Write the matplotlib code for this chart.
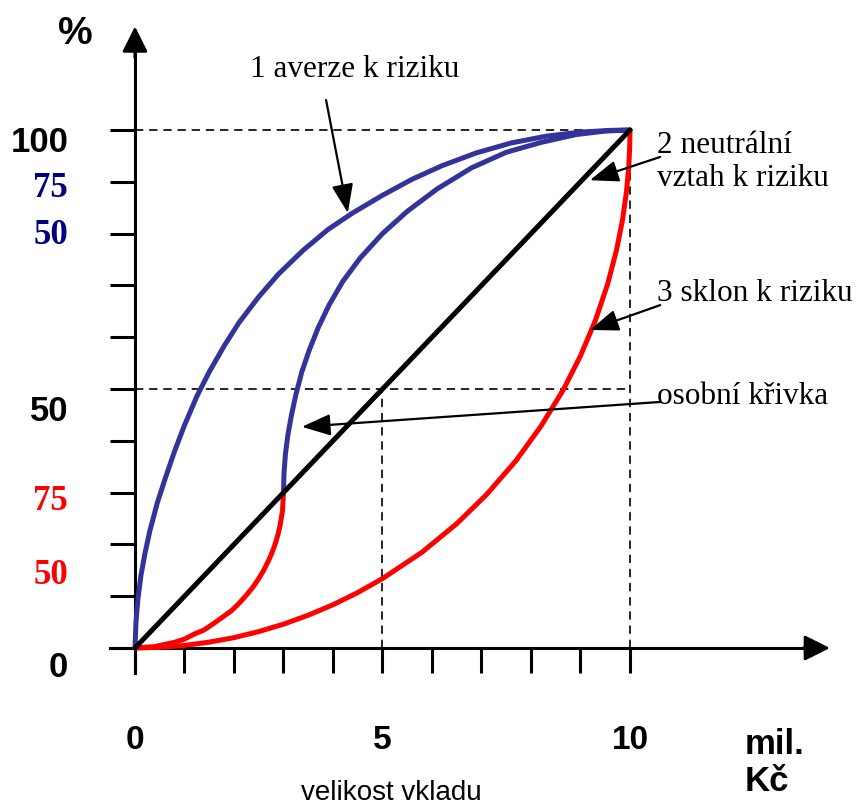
import matplotlib.pyplot as plt

OUT = "out.png"

BLUE = "#333399"
RED = "#ff0000"
NAVY = "#000080"

# 1 averze k riziku (blue, concave)
aver_x = [0, 0.02, 0.06, 0.12, 0.2, 0.3, 0.45, 0.62, 0.8, 1.0, 1.25, 1.5, 1.8,
          2.1, 2.5, 2.9, 3.4, 3.9, 4.4, 5.0, 5.6, 6.2, 6.9, 7.6, 8.3, 9.0, 9.6, 10]
aver_y = [0, 5.0, 9.5, 14.0, 18.2, 22.6, 28.0, 33.0, 38.0, 43.0, 48.6, 53.3, 58.3,
          62.8, 67.8, 72.2, 76.8, 80.8, 84.0, 87.4, 90.5, 93.1, 95.6, 97.5, 98.8,
          99.6, 99.93, 100]

# 2 neutralni vztah (black, straight)
neut_x = [0, 10]
neut_y = [0, 100]

# 3 sklon k riziku (red, convex)
sklon_x = [0, 0.5, 1.0, 1.5, 2.0, 2.5, 3.0, 3.5, 4.0, 4.5, 5.0, 5.8, 6.5, 7.1,
           7.7, 8.2, 8.65, 9.0, 9.3, 9.55, 9.73, 9.85, 9.93, 9.975, 9.995, 10]
sklon_y = [0, 0.13, 0.5, 1.13, 2.0, 3.17, 4.6, 6.33, 8.35, 10.7, 13.4, 18.5,
           24.0, 29.6, 36.2, 42.8, 49.8, 56.4, 63.2, 70.3, 76.9, 82.7, 88.2,
           92.9, 96.8, 100]

# osobni krivka: red lower part, blue upper part
osob_lo_x = [0, 0.4, 0.8, 1.0, 1.2, 1.4, 1.6, 1.95, 2.1, 2.25, 2.38, 2.5, 2.6,
             2.7, 2.78, 2.84, 2.89, 2.93, 2.98, 3.0]
osob_lo_y = [0, 0.27, 1.1, 1.72, 2.7, 3.5, 4.8, 7.2, 8.6, 10.2, 11.7, 13.4, 15.0,
             16.9, 18.7, 20.3, 21.95, 23.6, 26.5, 30.0]
osob_hi_x = [3.0, 3.01, 3.04, 3.09, 3.16, 3.25, 3.37, 3.52, 3.7, 3.92, 4.2, 4.55,
             5.0, 5.5, 6.1, 6.8, 7.5, 8.2, 8.9, 9.5, 10]
osob_hi_y = [30.0, 33.7, 37.5, 41.2, 44.9, 48.9, 53.3, 57.5, 61.8, 66.2, 70.8, 75.3,
             80.0, 84.3, 88.6, 92.7, 95.7, 97.6, 99.1, 99.8, 100]

x_ticks = list(range(0, 11))
y_ticks = list(range(0, 101, 10))
x_labels = [(0, "0"), (5, "5"), (10, "10")]
# y labels: (y position, text, colour, family)
y_labels = [(97.5, "100", "black", "Liberation Sans"),
            (88.8, "75", NAVY, "Liberation Serif"),
            (79.7, "50", NAVY, "Liberation Serif"),
            (45.6, "50", "black", "Liberation Sans"),
            (28.2, "75", RED, "Liberation Serif"),
            (13.9, "50", RED, "Liberation Serif"),
            (-3.7, "0", "black", "Liberation Sans")]

fig = plt.figure(figsize=(8.57, 8.08), dpi=100)
ax = fig.add_axes([0, 0, 1, 1])
ax.set_xlim(-2.727, 14.586)
ax.set_ylim(-30.89, 125.1)

for s in ["top", "right"]:
    ax.spines[s].set_visible(False)
ax.spines["left"].set_position(("data", 0))
ax.spines["bottom"].set_position(("data", 0))
ax.spines["left"].set_bounds(-4.8, 117)
ax.spines["bottom"].set_bounds(-0.5, 13.8)
for s in ["left", "bottom"]:
    ax.spines[s].set_linewidth(2.2)
ax.set_xticks(x_ticks)
ax.set_yticks(y_ticks)
ax.tick_params(direction="out", length=18, width=2.2, labelleft=False,
               labelbottom=False)

# axis arrow heads
arr = dict(arrowstyle="-|>,head_length=0.7,head_width=0.35", color="black",
           lw=2.2, shrinkA=0, shrinkB=0, mutation_scale=22)
ax.annotate("", xy=(0, 120.0), xytext=(0, 114), arrowprops=arr)
ax.annotate("", xy=(14.04, 0), xytext=(13.5, 0), arrowprops=arr)

# dashed guides
dash = dict(color="black", lw=1.2, ls=(0, (5, 3.5)), zorder=1)
ax.plot([0, 10], [100, 100], **dash)
ax.plot([10, 10], [0, 100], **dash)
ax.plot([0, 10], [50, 50], **dash)
ax.plot([5, 5], [0, 50], **dash)

lw = 3.6
ax.plot(aver_x, aver_y, color=BLUE, lw=lw, solid_capstyle="round",
        solid_joinstyle="round", zorder=3)
ax.plot(osob_hi_x, osob_hi_y, color=BLUE, lw=lw, solid_capstyle="butt",
        solid_joinstyle="round", zorder=3)
ax.plot(osob_lo_x, osob_lo_y, color=RED, lw=lw, solid_capstyle="butt",
        solid_joinstyle="round", zorder=3)
ax.plot(sklon_x, sklon_y, color=RED, lw=lw, solid_capstyle="round",
        solid_joinstyle="round", zorder=3)
ax.plot(neut_x, neut_y, color="black", lw=lw, solid_capstyle="round", zorder=4)

# tick labels
for y, t, c, fam in y_labels:
    ax.text(-1.35, y, t, color=c, fontsize=25, fontweight="bold", family=fam,
            ha="right", va="center")
ax.text(-1.2, 118.6, "%", fontsize=28, fontweight="bold",
        family="Liberation Sans", ha="center", va="center")
for x, t in x_labels:
    ax.text(x, -17.8, t, fontsize=24, fontweight="bold", family="Liberation Sans",
            ha="center", va="center")
ax.text(12.32, -15.5, "mil.\nKč", fontsize=25, fontweight="bold",
        family="Liberation Sans", ha="left", va="top", linespacing=1.15)
ax.text(5.17, -28.0, "velikost vkladu", fontsize=20, family="Liberation Sans",
        ha="center", va="center")

# annotations
ann = dict(arrowstyle="-|>,head_length=0.8,head_width=0.3", color="black",
           lw=1.6, shrinkA=0, shrinkB=0, mutation_scale=22)
tf = dict(fontsize=22.5, family="Liberation Serif")
ax.text(4.44, 111.6, "1 averze k riziku", ha="center", va="center", **tf)
ax.annotate("", xy=(4.30, 84.0), xytext=(3.86, 105.8), arrowprops=ann, zorder=5)
ax.text(10.55, 93.8, "2 neutrální\nvztah k riziku", ha="left", va="center",
        linespacing=1.18, **tf)
ax.annotate("", xy=(9.19, 90.3), xytext=(10.61, 94.8), arrowprops=ann, zorder=5)
ax.text(10.55, 68.5, "3 sklon k riziku", ha="left", va="center", **tf)
ax.annotate("", xy=(9.19, 61.4), xytext=(10.61, 66.2), arrowprops=ann, zorder=5)
ax.text(10.55, 48.5, "osobní křivka", ha="left", va="center", **tf)
ax.annotate("", xy=(3.37, 42.7), xytext=(10.61, 47.5), arrowprops=ann, zorder=5)

fig.savefig(OUT, dpi=100)
